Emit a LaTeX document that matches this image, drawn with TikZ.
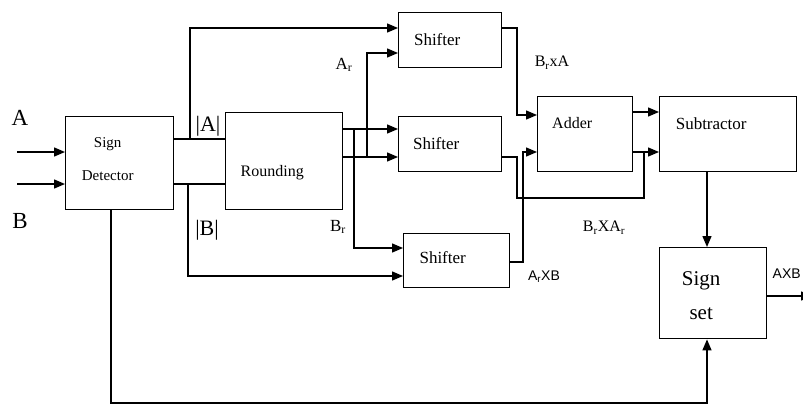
\documentclass[tikz,border=0pt]{standalone}
\usepackage{fontspec}
\setmainfont{Liberation Serif}
\newfontfamily\sansfont{Liberation Sans}
\usepackage{tikz}
\usetikzlibrary{positioning,arrows.meta}

\begin{document}
\begin{tikzpicture}[
  x=1pt,y=-1pt,
  line width=1.4pt,
  box/.style={draw,anchor=north west,inner sep=0pt},
  txt/.style={font=\fontsize{17}{20}\selectfont,align=center},
  lbl/.style={font=\fontsize{17}{20}\selectfont,inner sep=0pt},
  >={Triangle[length=11pt,width=9pt]}]
  \useasboundingbox (0,0) rectangle (803,405);
  % blocks
  \node (det) [box,minimum width=108,minimum height=93,
    label={[txt,font=\fontsize{15}{33}\selectfont,xshift=-12pt,yshift=4pt]center:Sign\\Detector}] at (65,116) {};
  \node (rnd) [box,minimum width=117,minimum height=97,
    label={[txt,font=\fontsize{16}{20}\selectfont,xshift=-12pt,yshift=-11pt]center:Rounding}] at (225,112) {};
  \node (sh1) [box,minimum width=103,minimum height=55,
    label={[txt,xshift=-13pt,yshift=1pt]center:Shifter}] at (398,12) {};
  \node (sh2) [box,minimum width=103,minimum height=55,
    label={[txt,xshift=-14pt,yshift=1pt]center:Shifter}] at (398,116) {};
  \node (sh3) [box,minimum width=106,minimum height=54,
    label={[txt,xshift=-14pt,yshift=3pt]center:Shifter}] at (403,233) {};
  \node (add) [box,minimum width=95,minimum height=75,
    label={[txt,font=\fontsize{16}{20}\selectfont,xshift=-13pt,yshift=11pt]center:Adder}] at (537,96) {};
  \node (sub) [box,minimum width=137,minimum height=75,
    label={[txt,xshift=-17pt,yshift=11pt]center:Subtractor}] at (659,96) {};
  \node (sgn) [box,minimum width=107,minimum height=91,
    label={[txt,font=\fontsize{21}{34}\selectfont,xshift=-12pt,yshift=-2pt]center:Sign\\set}] at (659,247) {};
  % levels and free ends
  \coordinate (inA) at (17,152);
  \coordinate (inB) at (17,184);
  \coordinate (ya) at (0,139);
  \coordinate (yb) at (0,184);
  \coordinate (out) at (812,296);
  % inputs
  \draw[->] (inA) -- (inA -| det.west);
  \draw[->] (inB) -- (inB -| det.west);
  \node (lA) [lbl,font=\fontsize{23}{24}\selectfont] at (20,118) {A};
  \node (lB) [lbl,font=\fontsize{23}{24}\selectfont] at (20,221) {B};
  % sign detector to rounding
  \draw (det.east |- ya) -- (rnd.west |- ya);
  \draw (det.east |- yb) -- (rnd.west |- yb);
  \draw[->] (190,139) |- (sh1.west |- 0,28);
  \draw[->] (188,184) |- (sh3.west |- 0,276);
  \node (labs) [lbl,font=\fontsize{22}{24}\selectfont] at (208,126) {|A|};
  \node (lbbs) [lbl,font=\fontsize{22}{24}\selectfont] at (207,230) {|B|};
  % rounding outputs
  \draw[->] (rnd.east |- 0,129) -- (sh2.west |- 0,129);
  \draw[->] (rnd.east |- 0,157) -- (sh2.west |- 0,157);
  \draw[->] (367,157) |- (sh1.west |- 0,53);
  \draw[->] (354,129) |- (sh3.west |- 0,248);
  \node (lar) [lbl] at (344,65) {A\textsubscript{r}};
  \node (lbr) [lbl] at (338,227) {B\textsubscript{r}};
  % shifters to adder and subtractor
  \draw[->] (sh1.east |- 0,28) -| (517,115) -- (add.west |- 0,115);
  \draw[->] (sh3.east |- 0,262) -| (523,152) -- (add.west |- 0,152);
  \draw[->] (sh2.east |- 0,157) -| (517,198) -| (644,152) -- (sub.west |- 0,152);
  \draw[->] (add.east |- 0,112) -- (sub.west |- 0,112);
  \draw (add.east |- 0,152) -- (644,152);
  \node (lbxa) [lbl,font=\fontsize{16}{20}\selectfont] at (552,63) {B\textsubscript{r}xA};
  \node (lbxar) [lbl,font=\fontsize{16}{20}\selectfont] at (604,228) {B\textsubscript{r}XA\textsubscript{r}};
  \node (laxb) [lbl,font=\sansfont\fontsize{14}{16}\selectfont] at (544,277) {A\textsubscript{r}XB};
  % subtractor to sign set
  \draw[->] (sub.south -| 707,0) -- (sgn.north -| 707,0);
  \draw[->] (det.south -| 111,0) |- (707,403) -- (sgn.south -| 707,0);
  \draw[->] (sgn.east |- out) -- (out);
  \node (laxb2) [lbl,font=\sansfont\fontsize{14}{16}\selectfont,anchor=west] at (772,274) {AXB};
\end{tikzpicture}
\end{document}
